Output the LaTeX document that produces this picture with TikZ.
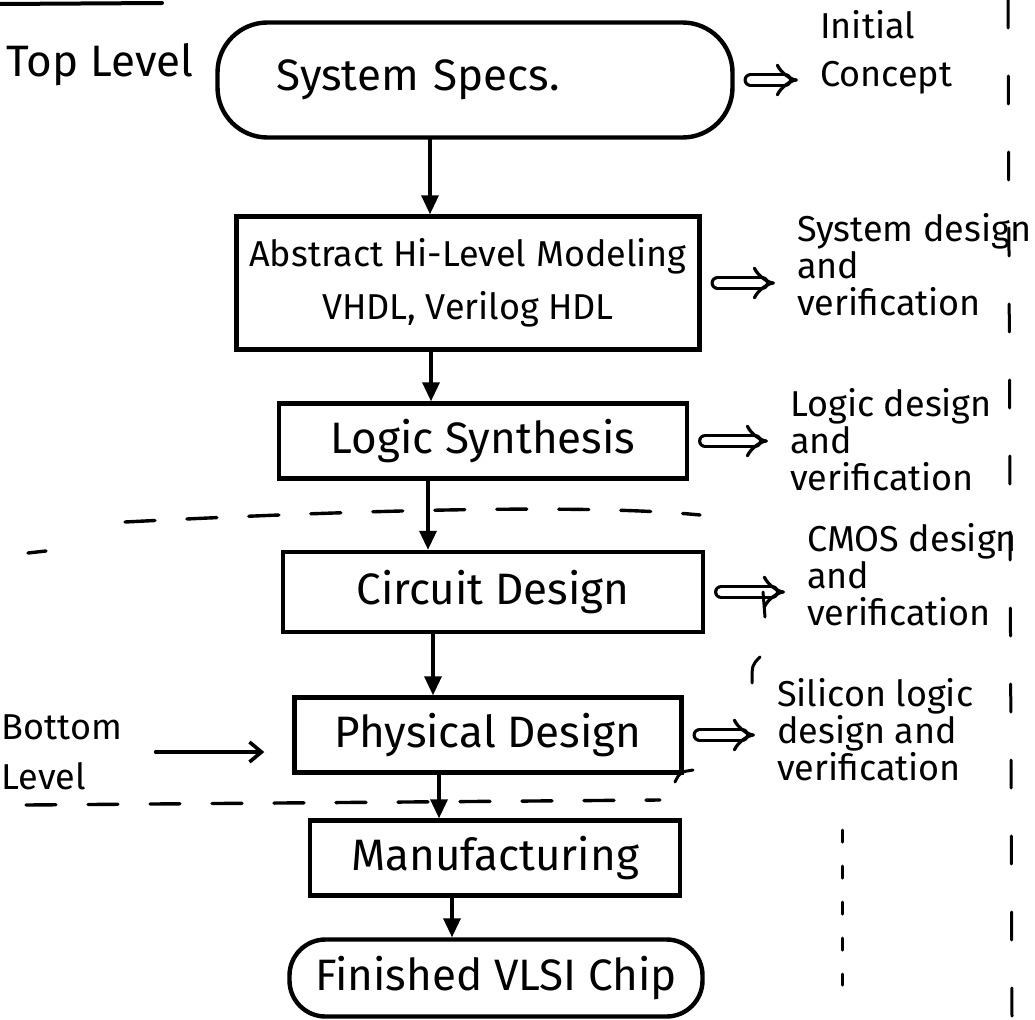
\documentclass[tikz,border=0pt]{standalone}
\usepackage{fontspec}
\setmainfont{Fira Sans}
\usetikzlibrary{arrows.meta, positioning}

\tikzset{
  stage/.style={draw, line width=4.4pt, inner sep=0pt, align=center},
  ends/.style={stage, rounded corners=40pt},
  note/.style={align=left, inner sep=0pt, font=\fontsize{36}{37}\selectfont},
  impl/.style={double, double distance=8pt, line width=3.2pt, -{Implies}, shorten <=16pt, shorten >=22pt},
  level/.style={line width=3.4pt, dash pattern=on 30pt off 32pt},
}

\begin{document}
\begin{tikzpicture}[x=1pt, y=-1pt, >={Triangle[length=19pt,width=17pt]}, font=\fontsize{44}{46}\selectfont, line cap=round]
    \useasboundingbox (0,0) rectangle (1035,1019);

    % the design flow, top to bottom
    \node[ends, rounded corners=50pt, minimum width=515pt, minimum height=115pt,
          text width=397pt, inner xsep=59pt, align=left] at (475,80) (specs) {System Specs.};
    \node[stage, minimum width=463pt, minimum height=133pt, font=\fontsize{36}{53}\selectfont] at (468,283) (abstract) {Abstract Hi-Level Modeling\\VHDL, Verilog HDL};
    \node[stage, minimum width=408pt, minimum height=75pt] at (483,441) (logic) {Logic Synthesis};
    \node[stage, minimum width=420pt, minimum height=80pt] at (493,592) (circuit) {Circuit Design};
    \node[stage, minimum width=387pt, minimum height=75pt] at (488,735) (physical) {Physical Design};
    \node[stage, minimum width=370pt, minimum height=75pt] at (495,858) (manuf) {Manufacturing};
    \node[ends, rounded corners=36pt, minimum width=413pt, minimum height=77pt] at (496,978) (finished) {Finished VLSI Chip};

    \foreach \a/\b/\x in {specs/abstract/430, abstract/logic/431, logic/circuit/428,
                          circuit/physical/433, physical/manuf/439, manuf/finished/452} {
        \coordinate (col-\a) at (\x,0);
        \draw[->, line width=3.4pt] (\a.south -| col-\a) -- (\b.north -| col-\a);
    };

    % levels on the left
    \node at (100,65) (top) {Top Level};
    \node[align=left, font=\fontsize{36}{50}\selectfont] at (62,752) (bottom) {Bottom\\Level};
    \draw[line width=3.6pt, -{Straight Barb[length=12pt,width=20pt]}, shorten <=30pt, shorten >=28pt]
        (bottom.east) -- (bottom.east -| physical.west);

    % what each step stands for
    \node[note, anchor=west, font=\fontsize{36}{48}\selectfont] at (820,52) (initial) {Initial\\Concept};
    \node[note, anchor=west] at (797,265) (sysnote) {System design\\and\\verification};
    \node[note, anchor=west] at (790,440) (logicnote) {Logic design\\and\\verification};
    \node[note, anchor=west] at (807,575) (cmosnote) {CMOS design\\and\\verification};
    \node[note, anchor=west] at (777,730) (silnote) {Silicon logic\\design and\\verification};

    \foreach \a/\b in {specs/initial, abstract/sysnote, logic/logicnote, circuit/cmosnote, physical/silnote} {
        \draw[impl] (\a.east) -- (\a.east -| \b.west);
    };

    % dashed level borders
    \draw[level] (125,522) .. controls (400,508) and (600,505) .. (700,515);
    \draw[level] (28,553) -- (46,551);
    \draw[level] (26,805) -- (660,800);

    % rules and stray strokes
    \draw[line width=4pt] (0,4) -- (162,3);
    \draw[line width=3pt, dash pattern=on 28pt off 48pt] (1008,0) -- (1012,1019);
    \draw[line width=3pt, dash pattern=on 12pt off 24pt] (842,830) -- (842,985);
    \draw[line width=3pt] (760,657) .. controls (752,665) .. (752,683);
    \draw[line width=3pt] (763,592) -- (765,617);
    \draw[line width=3pt] (693,770) .. controls (680,772) .. (675,782);
\end{tikzpicture}
\end{document}
